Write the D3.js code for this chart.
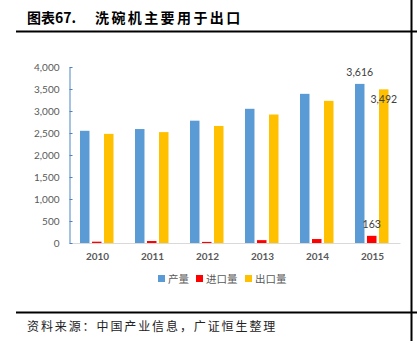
<!DOCTYPE html>
<html>
<head>
<meta charset="utf-8">
<script src="https://cdn.jsdelivr.net/npm/d3@7"></script>
<style>
  body { margin: 0; background: #fff; }
  svg { display: block; }
</style>
</head>
<body>
<div id="chart"></div>
<script>
// chart data
const years = ['2010', '2011', '2012', '2013', '2014', '2015'];
const production = [2550, 2590, 2780, 3050, 3390, 3616];
const imports = [30, 45, 25, 65, 90, 163];
const exports = [2480, 2520, 2660, 2920, 3230, 3492];
const seriesNames = ['产量', '进口量', '出口量'];
const seriesColors = ['#5B9BD5', '#FF0000', '#FFC000'];
const yTicks = [0, 500, 1000, 1500, 2000, 2500, 3000, 3500, 4000];

const width = 417, height = 341;
const seriesValues = [production, imports, exports];

const svg = d3.select('#chart').append('svg')
  .attr('width', width)
  .attr('height', height);

// frame lines
svg.append('rect').attr('x', 16).attr('y', 30.5).attr('width', 401).attr('height', 2).attr('fill', '#000');
svg.append('rect').attr('x', 16).attr('y', 311.5).attr('width', 401).attr('height', 2).attr('fill', '#000');
svg.append('rect').attr('x', 410.5).attr('y', 0).attr('width', 2).attr('height', 341).attr('fill', '#000');

// title in two parts so the gap stays
const title = svg.append('g')
  .style('font-family', '"Noto Sans CJK SC", sans-serif')
  .style('font-weight', 'bold')
  .style('font-size', '14px');
title.append('text').attr('x', 27).attr('y', 23).text('图表67.');
title.append('text').attr('x', 95).attr('y', 23).style('letter-spacing', '2.4px').text('洗碗机主要用于出口');

svg.append('text')
  .attr('x', 27).attr('y', 331)
  .style('font-family', '"Noto Sans CJK SC", sans-serif')
  .style('font-size', '12px')
  .style('letter-spacing', '1.9px')
  .attr('fill', '#222')
  .text('资料来源：中国产业信息，广证恒生整理');

// scales
const x = d3.scaleBand().domain(years).range([70, 400]);
const xSub = d3.scaleBand().domain(d3.range(3)).range([10, 43.5]).paddingInner(0.21);
const y = d3.scaleLinear().domain([0, 4000]).range([243, 67]);

// bars
const groups = svg.append('g').selectAll('g')
  .data(years)
  .join('g')
  .attr('transform', d => `translate(${x(d)},0)`);

groups.selectAll('rect')
  .data((d, i) => seriesValues.map((vals, s) => ({ s, v: vals[i] })))
  .join('rect')
  .attr('x', d => xSub(d.s))
  .attr('width', xSub.bandwidth())
  .attr('y', d => y(d.v))
  .attr('height', d => y(0) - y(d.v))
  .attr('fill', d => seriesColors[d.s]);

// x axis
const xAxis = svg.append('g')
  .attr('transform', `translate(0,${y(0)})`)
  .call(d3.axisBottom(x).tickSize(0).tickPadding(10));
xAxis.select('.domain').attr('stroke', '#D9D9D9').attr('stroke-width', 1.2);
xAxis.selectAll('text')
  .attr('fill', '#595959')
  .style('font-family', 'Lato, sans-serif')
  .style('font-weight', 'bold')
  .style('font-size', '10px');

// y axis
const yAxis = svg.append('g')
  .attr('transform', 'translate(69.5,0)')
  .call(d3.axisLeft(y).tickValues(yTicks).tickFormat(d3.format(',')).tickSizeInner(-3).tickSizeOuter(0).tickPadding(10));
yAxis.select('.domain').attr('stroke', '#6A9BCB').attr('stroke-width', 1.2);
yAxis.selectAll('.tick line').attr('stroke', '#4F81BD');
yAxis.selectAll('text')
  .attr('fill', '#595959')
  .style('font-family', 'Lato, sans-serif')
  .style('font-size', '10px');

// value labels for 2015
const last = years.length - 1;
const labelStyle = sel => sel
  .attr('fill', '#404040')
  .attr('text-anchor', 'middle')
  .style('font-family', 'Lato, sans-serif')
  .style('font-size', '10.5px');

svg.append('text')
  .attr('x', x(years[last]) + xSub(0) + xSub.bandwidth() / 2)
  .attr('y', y(production[last]) - 8)
  .call(labelStyle)
  .text(d3.format(',')(production[last]));

svg.append('text')
  .attr('x', x(years[last]) + xSub(1) + xSub.bandwidth() / 2)
  .attr('y', y(imports[last]) - 8)
  .call(labelStyle)
  .text(d3.format(',')(imports[last]));

svg.append('text')
  .attr('x', x(years[last]) + xSub(2) + xSub.bandwidth() / 2)
  .attr('y', y(exports[last]) + 14)
  .call(labelStyle)
  .text(d3.format(',')(exports[last]));

// legend
const legendX = [158, 196, 245];
const legend = svg.append('g').selectAll('g')
  .data(seriesNames)
  .join('g')
  .attr('transform', (d, i) => `translate(${legendX[i]},275)`);
legend.append('rect')
  .attr('width', 7).attr('height', 7)
  .attr('fill', (d, i) => seriesColors[i]);
legend.append('text')
  .attr('x', 10).attr('y', 8)
  .attr('fill', '#595959')
  .style('font-family', '"Noto Sans CJK SC", sans-serif')
  .style('font-size', '10.5px')
  .text(d => d);
</script>
</body>
</html>
